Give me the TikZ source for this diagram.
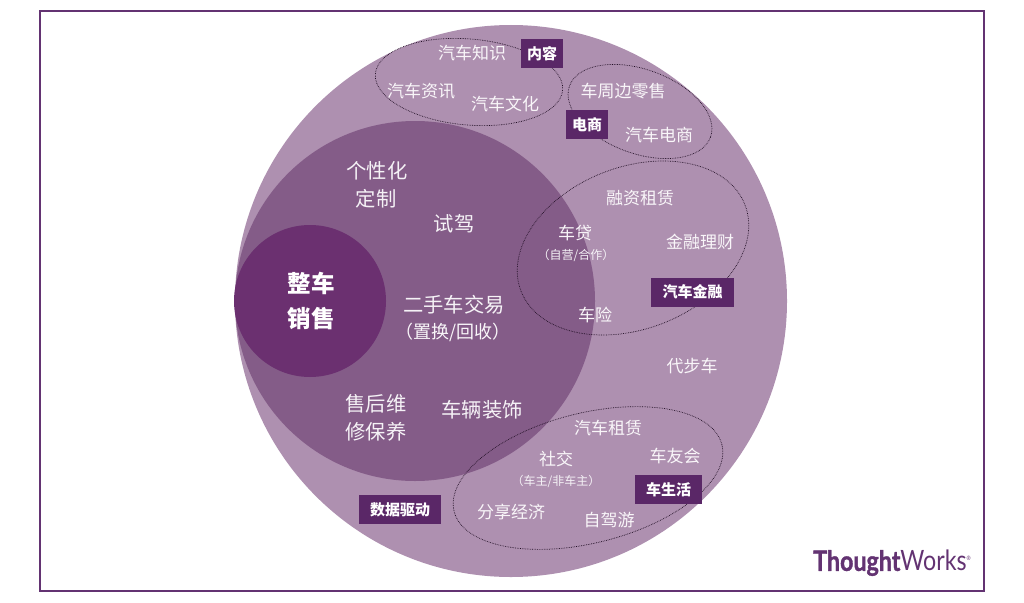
\documentclass[tikz,border=0pt]{standalone}
\usepackage{fontspec}
\setmainfont{Noto Sans CJK SC}
\newfontfamily\logofont[FakeStretch=0.83, BoldFeatures={FakeBold=1.2}]{Lato}
\usetikzlibrary{positioning}
\definecolor{outerpurple}{HTML}{AE90B0}
\definecolor{midpurple}{HTML}{845C88}
\definecolor{corepurple}{HTML}{6B3070}
\definecolor{tagpurple}{HTML}{5A2767}
\definecolor{framepurple}{HTML}{633372}
\tikzstyle{item} = [text=white!92!outerpurple, inner sep=0pt, yshift=-0.7pt, font=\fontsize{17}{17}\selectfont]
\tikzstyle{bigitem} = [text=white!92!midpurple, inner sep=0pt, yshift=-0.7pt, font=\fontsize{20.3}{20}\selectfont]
\tikzstyle{smallitem} = [text=white!88!outerpurple, inner sep=0pt, yshift=-0.7pt, font=\fontsize{12}{12}\selectfont]
\tikzstyle{coreitem} = [text=white, inner sep=0pt, font=\fontsize{23.5}{24}\selectfont\bfseries]
\tikzstyle{tagbox} = [fill=tagpurple, text=white, inner sep=0pt, minimum height=29pt, font=\fontsize{15}{15}\selectfont\bfseries]
\tikzstyle{group} = [draw=black!65!tagpurple, densely dotted, line width=0.7pt]

\begin{document}
\begin{tikzpicture}[x=1pt, y=-1pt]

    \useasboundingbox (0,0) rectangle (1024,602);
    \draw [framepurple, line width=2pt] (40,11) rectangle (984,591);

    \fill [outerpurple] (511,301) circle (276);
    \fill [midpurple] (415,301) circle (180);
    \fill [corepurple] (310,301) circle (76);

    \draw [group, rotate around={-5:(469,82)}] (469,82) ellipse (94 and 43);
    \draw [group, rotate around={-20:(640,111.5)}] (640,111.5) ellipse (75 and 42);
    \draw [group, rotate around={21:(633,248)}] (633,248) ellipse (120 and 81);
    \draw [group, rotate around={14:(588,478)}] (588,478) ellipse (138 and 65);

    \node (zhengche) [coreitem] at (311,283) {整车};
    \node (xiaoshou) [coreitem] at (311,319) {销售};

    \node (gexinghua) [bigitem] at (377,170) {个性化};
    \node (dingzhi) [bigitem] at (376,198) {定制};
    \node (shijia) [bigitem] at (454,223) {试驾};
    \node (ershouche) [bigitem] at (454,304) {二手车交易};
    \node (zhihuan) [item, font=\fontsize{18}{18}\selectfont] at (453,332) {（置换/回收）};
    \node (shouhou) [bigitem] at (376,403) {售后维};
    \node (xiubao) [bigitem] at (376,431) {修保养};
    \node (zhuangshi) [bigitem] at (482,409) {车辆装饰};

    \node (zhishi) [item] at (472,52) {汽车知识};
    \node (zixun) [item] at (421,90) {汽车资讯};
    \node (wenhua) [item] at (505,103) {汽车文化};
    \node (lingshou) [item] at (623,90) {车周边零售};
    \node (dianshang) [item] at (659,134) {汽车电商};
    \node (rongzi) [item] at (640,197) {融资租赁};
    \node (chedai) [item] at (575,232) {车贷};
    \node (ziying) [smallitem] at (576,255) {（自营/合作）};
    \node (licai) [item] at (700,241) {金融理财};
    \node (chexian) [item] at (595,314) {车险};
    \node (daibu) [item] at (692,365) {代步车};
    \node (zulin) [item] at (608,427) {汽车租赁};
    \node (shejiao) [item] at (556,458) {社交};
    \node (chezhu) [smallitem] at (556,481) {（车主/非车主）};
    \node (cheyou) [item] at (675,455) {车友会};
    \node (fenxiang) [item] at (511,511) {分享经济};
    \node (zijia) [item] at (609,519) {自驾游};

    \node (neirong) [tagbox, minimum width=42pt] at (542,53.5) {内容};
    \node (dianshangtag) [tagbox, minimum width=42pt] at (587,124.5) {电商};
    \node (jinrong) [tagbox, minimum width=83pt] at (692.5,292) {汽车金融};
    \node (shuju) [tagbox, minimum width=82pt] at (400,509.5) {数据驱动};
    \node (shenghuo) [tagbox, minimum width=67pt] at (668.5,489.5) {车生活};

    \node (logo) [text=framepurple, inner sep=0pt, anchor=east, font=\fontsize{28}{28}\logofont] at (971,563) {\textbf{Thought}Works\raisebox{10pt}{\fontsize{6}{6}\selectfont®}};

\end{tikzpicture}
\end{document}
